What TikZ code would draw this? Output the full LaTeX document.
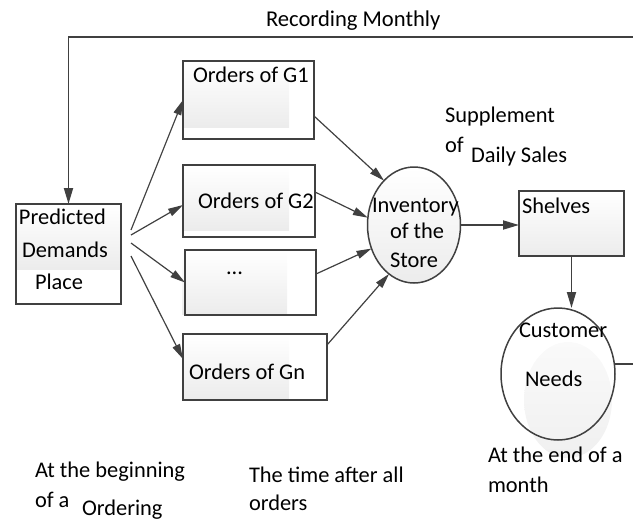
\documentclass[tikz,border=0pt]{standalone}
\usepackage{fontspec}
\setmainfont{Carlito}
\usetikzlibrary{arrows.meta,calc,shapes.geometric}
\definecolor{ln}{HTML}{404040}
\begin{document}
\begin{tikzpicture}[x=1pt,y=-1pt,
  box/.style={draw=ln,line width=1.5pt,rectangle,inner sep=0pt,outer sep=0pt},
  oval/.style={draw=ln,line width=1.5pt,ellipse,inner sep=0pt,outer sep=0pt},
  txt/.style={anchor=base west,inner sep=0pt,outer sep=0pt,font=\fontsize{22.4}{26}\selectfont},
  conn/.style={draw=ln,line width=1.8pt},
  arr/.style={conn,-{Triangle[length=16pt,width=9pt]}},
  thinarr/.style={draw=ln,line width=1.2pt,-{Triangle[length=15pt,width=8pt]}},
  grad/.style={top color=white,bottom color=gray!15,draw=none}
]
\useasboundingbox (0,0) rectangle (633,520);

% soft gradient panels inside the boxes
\shade[grad] (17,205) rectangle (120,269);
\shade[grad] (184,62) rectangle (289,127);
\shade[grad] (184,166) rectangle (289,230);
\shade[grad] (182,251) rectangle (287,314);
\shade[grad] (184,335) rectangle (289,399);
\shade[top color=gray!4,bottom color=gray!12] (568,400) ellipse [x radius=44pt, y radius=58pt];

% nodes
\node[box,minimum width=105pt,minimum height=100pt] (pd) at (68.5,254) {};
\node[box,minimum width=131pt,minimum height=78pt] (g1) at (248.5,100) {};
\node[box,minimum width=132pt,minimum height=72pt] (g2) at (249,201) {};
\node[box,minimum width=131pt,minimum height=65pt] (gd) at (250.5,282.5) {};
\node[box,minimum width=144pt,minimum height=66pt] (gn) at (255,367) {};
\node[oval,top color=white,bottom color=gray!15,minimum width=93pt,minimum height=116pt] (inv) at (414,225) {};
\node[box,top color=white,bottom color=gray!15,minimum width=105pt,minimum height=65pt] (sh) at (571.5,223.5) {};
\node[oval,minimum width=114pt,minimum height=132pt] (cu) at (558,374) {};

% texts
\node[txt,font=\fontsize{22.6}{26}\selectfont] (t0) at (266,26) {Recording Monthly};
\node[txt] (tp1) at (19,224) {Predicted};
\node[txt] (tp2) at (22,257) {Demands};
\node[txt] (tp3) at (35,289) {Place};
\node[txt] (tg1) at (193,82) {Orders of G1};
\node[txt] (tg2) at (198,208) {Orders of G2};
\node[txt] (tgd) at (226,274) {...};
\node[txt] (tgn) at (189,379) {Orders of Gn};
\node[txt] (ti1) at (372,212) {Inventory};
\node[txt] (ti2) at (390,238) {of the};
\node[txt] (ti3) at (390,267) {Store};
\node[txt] (ts1) at (445,122) {Supplement};
\node[txt] (ts2) at (445,152) {of};
\node[txt] (ts3) at (471,162) {Daily Sales};
\node[txt] (tsh) at (522,213) {Shelves};
\node[txt] (tc1) at (519,337) {Customer};
\node[txt] (tc2) at (525,386) {Needs};
\node[txt] (te1) at (488,462) {At the end of a};
\node[txt] (te2) at (488,492) {month};
\node[txt] (tb1) at (35,477) {At the beginning};
\node[txt] (tb2) at (35,507) {of a};
\node[txt] (tb3) at (82,515) {Ordering};
\node[txt] (ta1) at (249,482) {The time after all};
\node[txt] (ta2) at (249,510) {orders};

% connectors
\coordinate (tr) at (633,37);
\coordinate (tl) at (68.5,37);
\coordinate (cr) at (633,363);
\draw[conn] (cu.10) -- (cu.10 -| cr);
\draw[arr] (tr) -- (tl) -- (pd.north);

\coordinate (s1) at ([xshift=10pt,yshift=24pt]pd.east);
\coordinate (s2) at ([xshift=10pt,yshift=19pt]pd.east);
\coordinate (s3) at ([xshift=10pt,yshift=11pt]pd.east);
\coordinate (s4) at ([xshift=10pt,yshift=-2pt]pd.east);
\draw[thinarr] (s1) -- (g1.west);
\draw[thinarr] (s2) -- ([yshift=-4pt]g2.west);
\draw[thinarr] (s3) -- (gd.west);
\draw[thinarr] (s4) -- ([yshift=8pt]gn.west);

\draw[thinarr] ([yshift=-16pt]g1.east) -- (inv.124);
\draw[thinarr] ([yshift=9pt]g2.east) -- (inv.171);
\draw[thinarr] ([yshift=8.5pt]gd.east) -- (inv.209);
\draw[thinarr] ([yshift=22pt]gn.east) -- (inv.243);

\draw[arr] (inv.east) -- (inv.east -| sh.west);
\draw[arr] (sh.south) -- (sh.south |- cu.north);
\end{tikzpicture}
\end{document}
